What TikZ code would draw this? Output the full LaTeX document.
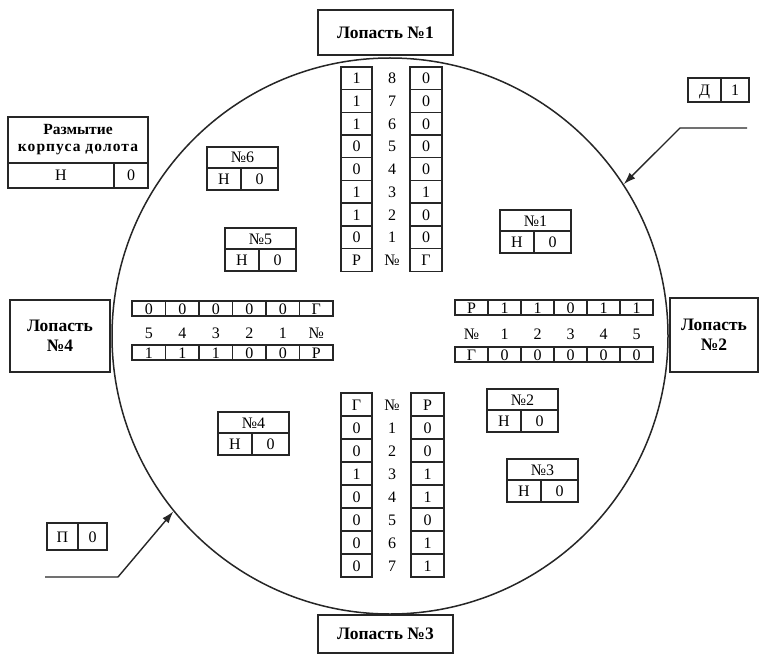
\documentclass[tikz,border=0pt]{standalone}
\usepackage{fontspec}
\setmainfont{Liberation Serif}
\usetikzlibrary{arrows.meta}
\tikzset{
  ln/.style={draw=black!85, line width=1.4pt},
  cell/.style={ln, outer sep=0pt, inner sep=0pt, font=\fontsize{16}{16}\selectfont, text height=11pt, text depth=0pt, anchor=north west},
  lbl/.style={inner sep=0pt, font=\fontsize{16}{16}\selectfont, text height=11pt, text depth=0pt},
  blade/.style={ln, outer sep=0pt, inner sep=2pt, font=\bfseries\fontsize{17.5}{20}\selectfont, align=center, anchor=north west},
  pointer/.style={draw=black!85, line width=1.4pt, -{Latex[length=12pt,width=8pt]}},
}
\newcommand\mkNumBox[4]{%
  \node[cell, minimum width=71pt, minimum height=21pt] (#1h) at (#2,#3) {#4};
  \node[cell, minimum width=34pt, minimum height=22pt] (#1l) at (#1h.south west) {Н};
  \node[cell, minimum width=37pt, minimum height=22pt] (#1r) at (#1l.north east) {0};
}
\begin{document}
\begin{tikzpicture}[x=1pt,y=-1pt]
\useasboundingbox (0,0) rectangle (760,655);
\fill[white] (0,0) rectangle (760,655);

% disk
\node[circle, draw=black!85, line width=1.5pt, minimum size=556pt, inner sep=0pt] (disk) at (390,336) {};

% blade labels
\node[blade, minimum width=135pt, minimum height=45pt] (b1) at (318,10) {Лопасть №1};
\node[blade, minimum width=88pt, minimum height=74pt] (b2) at (670,298) {Лопасть\\№2};
\node[blade, minimum width=100pt, minimum height=72pt] (b4) at (10,300) {Лопасть\\№4};
\node[blade, minimum width=135pt, minimum height=38pt] (b3) at (318,615) {Лопасть №3};

% top blade table
\foreach \a/\b/\c [count=\i from 0] in {1/8/0,1/7/0,1/6/0,0/5/0,0/4/0,1/3/1,1/2/0,0/1/0,Р/№/Г} {
  \node[cell, minimum width=31pt, minimum height=22.7pt] (tl\i) at (341, 67+22.7*\i) {\a};
  \node[lbl] (tm\i) at (392, 67+22.7*\i+11.35) {\b};
  \node[cell, minimum width=32pt, minimum height=22.7pt] (tr\i) at (410, 67+22.7*\i) {\c};
}
% bottom blade table
\foreach \a/\b/\c [count=\i from 0] in {Г/№/Р,0/1/0,0/2/0,1/3/1,0/4/1,0/5/0,0/6/1,0/7/1} {
  \node[cell, minimum width=31pt, minimum height=23pt] (bl\i) at (341, 393+23*\i) {\a};
  \node[lbl] (bm\i) at (392, 393+23*\i+11.5) {\b};
  \node[cell, minimum width=33pt, minimum height=23pt] (br\i) at (411, 393+23*\i) {\c};
}
% left blade table
\foreach \a/\b/\c [count=\i from 0] in {0/5/1,0/4/1,0/3/1,0/2/0,0/1/0,Г/№/Р} {
  \node[cell, minimum width=33.5pt, minimum height=15pt] (lt\i) at (132+33.5*\i, 301) {\a};
  \node[lbl] (lm\i) at (132+33.5*\i+16.75, 333) {\b};
  \node[cell, minimum width=33.5pt, minimum height=15pt] (lb\i) at (132+33.5*\i, 345) {\c};
}
% right blade table
\foreach \a/\b/\c [count=\i from 0] in {Р/№/Г,1/1/0,1/2/0,0/3/0,1/4/0,1/5/0} {
  \node[cell, minimum width=33pt, minimum height=15pt] (rt\i) at (455+33*\i, 300) {\a};
  \node[lbl] (rm\i) at (455+33*\i+16.5, 334) {\b};
  \node[cell, minimum width=33pt, minimum height=15pt] (rb\i) at (455+33*\i, 347) {\c};
}

% cutter boxes
\mkNumBox{nsix}{207}{147}{№6}
\mkNumBox{nfive}{225}{228}{№5}
\mkNumBox{none}{500}{210}{№1}
\mkNumBox{nfour}{218}{412}{№4}
\mkNumBox{ntwo}{487}{389}{№2}
\mkNumBox{nthree}{507}{459}{№3}

% body wear box
\node[cell, minimum width=140pt, minimum height=46pt, align=center, text height=, text depth=, inner sep=2pt, font=\bfseries\fontsize{15.5}{17}\selectfont] (razh) at (8,117) {Размытие\\{\addfontfeature{LetterSpace=7}корпуса долота}};
\node[cell, minimum width=106pt, minimum height=25pt] (razl) at (razh.south west) {Н};
\node[cell, minimum width=34pt, minimum height=25pt] (razr) at (razl.north east) {0};

% D 1 box and pointer
\node[cell, minimum width=33pt, minimum height=24pt] (dl) at (688,78) {Д};
\node[cell, minimum width=28pt, minimum height=24pt] (dr) at (dl.north east) {1};
\coordinate (dstart) at (747,128);
\coordinate (dbend) at (680,128);
\draw[pointer] (dstart) -- (dbend) -- (disk.33);

% P 0 box and pointer
\node[cell, minimum width=31pt, minimum height=27pt] (pl) at (47,523) {П};
\node[cell, minimum width=29pt, minimum height=27pt] (pr) at (pl.north east) {0};
\coordinate (pstart) at (45,577);
\coordinate (pbend) at (118,577);
\draw[pointer] (pstart) -- (pbend) -- (disk.219);
\end{tikzpicture}
\end{document}
